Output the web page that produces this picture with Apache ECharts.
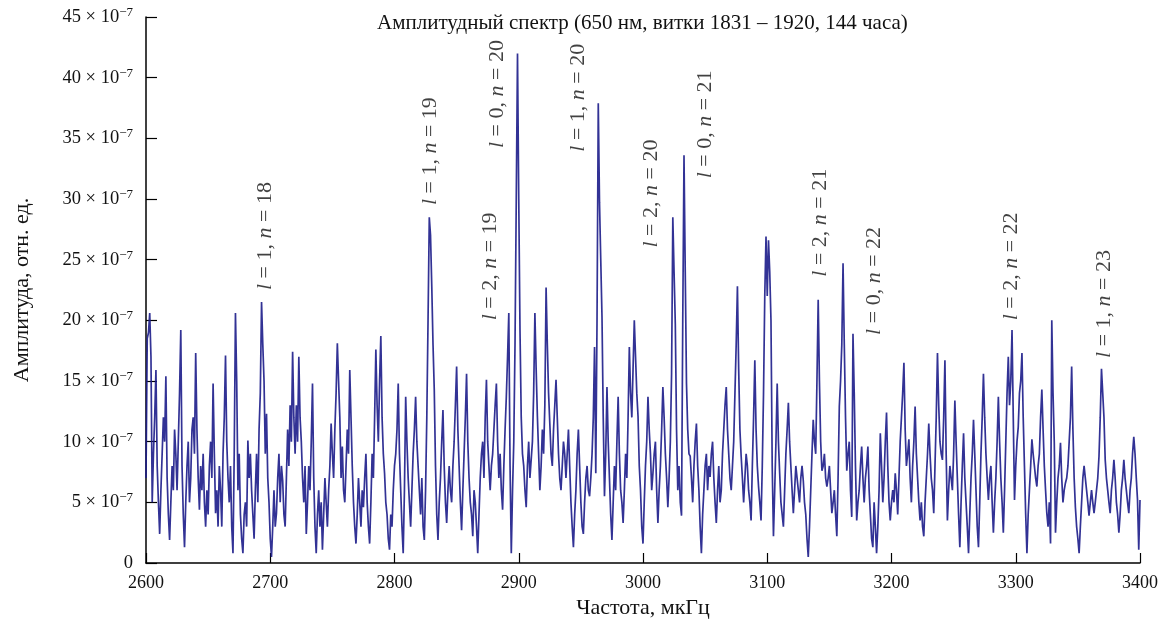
<!DOCTYPE html>
<html>
<head>
<meta charset="utf-8">
<script src="https://cdn.jsdelivr.net/npm/echarts@6/dist/echarts.min.js"></script>
<style>html,body{margin:0;padding:0;background:#fff;}#c{width:1167px;height:628px;}</style>
</head>
<body>
<div id="c"></div>
<script>
const freqStart = 2600;
const freqStep = 1;
const amps = [
7,18.5,19,20.6,17,5,9,12,15.9,8,
5,2.4,6,9,12,10,15.4,7,4,1.9,
5,8,6,11,9,6,10,14,19.2,8,
4,1.3,5,8,10,5,7,11,12,9,
17.3,11,7,4.4,8,6,9,5,3,6,
4,8,10,7,14.8,9,4.1,6,3,8,
6,3,9,12,17.1,10,7,5,8,3,
0.8,9,20.6,15,6,9,4,2,0.8,4,
5,3,10.1,7,9,6,4,2,6,9,
5,11,14,21.5,18,15,9,12.3,7,5,
2,0.5,3,6,3,4.1,7,9,5,8,
6.8,4,3,7,11,8,13,10,17.4,12,
9,13,10,17,12,10,7,5,8,2.4,
5,8,6,10,14.8,7,3,0.8,4,6,
3,5,1.1,4,7,5,3,6,8,11.5,
9,7,11,14,18.1,15,12,7,9.6,6,
5,8,11,9,15.9,12,8,5,3,1.6,
4,7,5,3,6,4.6,7,9,5,3,
1.6,5,9,7,12,17.6,13,10,15,18.7,
12,9,7.4,5,4,2,1.1,4,3,6,
8,9,11,14.8,9,6,3,0.8,6,13.7,
10,7,5,3,6,9,11,13.7,10,8,
6,4,7,3,1.9,6,12,20,28.5,27,
22.8,18,14.3,8,4,1.9,5,7,10,12.6,
8,5,3.3,6,8,6,5,8,10,13,
16.2,11,8,5,2.7,6,9,12,15.6,10,
7,5,4,2.2,6,5,3,0.8,4,7,
9,10,7,12,15.1,10,8,6,8,9,
11,13,14.8,10,7,9,6,4.4,8,11,
13.7,17,20.6,8,0.8,6,10,18.1,30,42,
30,19.2,12,9,8,6,4.6,8,10,7,
7,10,14,20.6,16,12.1,9,6,8,11,
9,13,22.7,18,14,11.5,9,8,11,13,
15.1,12,9,7,6,8,10,9,7,9,
11,8,5,3,1.3,4,6,9,11,8,
5,3,2.4,5,7,8,6,5.5,7,9,
12,17.8,7.4,20,37.9,29.7,25,20.3,12,5.5,
9,14.5,10,7,4,1.9,5,8,6,10,
13.7,9,6,5,3.3,6,9,7,12,17.8,
14,12,16,20,17,14,12.1,8,6,3,
1.6,5,8,10,13.7,11,9,6,7.4,9,
10,6,3.3,6,8,11,14.5,12,9,7,
4.6,7,10,15.6,28.5,24,19.7,11,6,8,
5,3.9,20,33.6,24,14.8,11,9,8.8,7,
5,8,10,11.5,8,6,3,0.8,4,6,
8,9,6,8,7.1,9,10,7,5,3.3,
6,8,5,6,9,11,13,14.5,11,9,
7,6,8,10,14,18,22.8,16,11,8.8,
7,5,7,9,8,6,5,3.5,8,12,
16.7,11,8,6.3,5,3.5,8,14,22,26.9,
22,26.6,24,20,8,2.2,6,10,14.8,10,
7.4,5,4,3,6,9,11,13.2,10,8,
6,4.1,6,8,7.9,6,5,7,8,6.8,
5,4,2,0.5,3,6,9,11.8,10,9,
15,21.7,15,10,7.6,8,9,7,6.3,7,
8,6,4.1,5,6,4,2.2,7,12.9,15,
18,24.7,18,12,7.6,9,10,6,3.8,18.9,
14,8,3.5,5,6,8,9.6,7,5,7,
8,9.6,6,4,2,1.3,5,3,0.8,3,
6,10.7,8,5,7,10,12.4,8,5,3.5,
5,6,5,7.4,6,4,7,10,12,14,
16.5,11,8,9,10.2,7,5,8,10,12.9,
9,7,5,3.5,5,3,2.2,5,7,9,
11.5,9,7,6,4.1,8,12,17.3,13,10,
9,8.5,12,16.7,9,3.5,6,8,7,6,
9,13.4,10,7,4,1.3,5,8,10.7,7,
5,3,0.8,4,7,9,11.8,9,6,3,
1.3,5,9,12,15.6,12,9,7,5.2,7,
8,5,2.5,5,7,10,13.7,10,7,5,
2.5,6,10,14,17,13,15,19.2,12,5.2,
8,10,11.2,14,15,17.3,12,8,4,0.8,
4,6,8,10.2,9,8,7,6.3,8,9,
12,14.3,11,8,6,4.1,3,5,1.6,20,
14,10,2.5,5,7,8,9.9,7,5,6,
6.6,7,8,10,12,16.2,11,7,4.6,3,
2,0.8,3,5,7,8,7,6,5,3.9,
5,6,5,4.1,5,6,7,8.8,12,16,
14,12,8.5,7,6,5,4.1,6,7,8.5,
7,5,4,2.5,4,6,7,8.5,7,6,
5,4.1,6,7,9,10.4,9,7,5.2,1.1,
5.2
];
const yTicks = [0,5,10,15,20,25,30,35,40,45];
const xTicks = [2600,2700,2800,2900,3000,3100,3200,3300,3400];
// Mode annotations: label anchor (frequency, amplitude at text start), l and n
const modeFreq = [2696, 2829, 2877, 2883, 2948, 3007, 3050, 3143, 3186, 3296, 3371];
const modeAmp  = [22.5, 29.5, 20.0, 34.2, 33.9, 26.0, 31.7, 23.6, 18.8, 20.0, 16.9];
const modeL    = [1, 1, 2, 0, 1, 2, 0, 2, 0, 2, 1];
const modeN    = [18, 19, 19, 20, 20, 20, 21, 21, 22, 22, 23];

const serif = '"Liberation Serif","DejaVu Serif","Times New Roman",serif';
const lineData = amps.map((a, i) => [freqStart + i * freqStep, a]);
const modeData = modeFreq.map((f, i) => ({value: [f, modeAmp[i]], l: modeL[i], n: modeN[i]}));

const chart = echarts.init(document.getElementById('c'));
chart.setOption({
  animation: false,
  backgroundColor: '#fff',
  title: {
    text: 'Амплитудный спектр (650 нм, витки 1831 – 1920, 144 часа)',
    left: 372, top: 8,
    textStyle: {fontFamily: serif, fontSize: 21, fontWeight: 'normal', color: '#111'}
  },
  grid: {left: 146, right: 27, top: 17, bottom: 65, containLabel: false},
  xAxis: {
    type: 'value', min: 2600, max: 3400, interval: 100,
    name: 'Частота, мкГц', nameLocation: 'middle', nameGap: 32,
    nameTextStyle: {fontFamily: serif, fontSize: 22, color: '#111'},
    axisLine: {show: true, lineStyle: {color: '#000', width: 1.5}},
    axisTick: {show: true, inside: true, length: 10, lineStyle: {color: '#000', width: 1.2}},
    axisLabel: {fontFamily: serif, fontSize: 18, color: '#111', margin: 11,
      formatter: v => xTicks.includes(v) ? String(v) : ''},
    splitLine: {show: false}
  },
  yAxis: {
    type: 'value', min: 0, max: 45, interval: 5,
    name: 'Амплитуда, отн. ед.', nameLocation: 'middle', nameGap: 113, nameRotate: 90,
    nameTextStyle: {fontFamily: serif, fontSize: 22, color: '#111'},
    axisLine: {show: true, lineStyle: {color: '#000', width: 1.5}},
    axisTick: {show: true, inside: true, length: 11, lineStyle: {color: '#000', width: 1.2}},
    axisLabel: {
      margin: 13, color: '#111',
      formatter: v => !yTicks.includes(v) ? '' : (v === 0 ? '{a|0}' : '{a|' + v + ' × 10}{s|−7}'),
      rich: {
        a: {fontFamily: serif, fontSize: 18.5, color: '#111'},
        s: {fontFamily: serif, fontSize: 13, color: '#111', verticalAlign: 'bottom', padding: [0, 0, 9, 0]}
      }
    },
    splitLine: {show: false}
  },
  series: [
    {
      type: 'line', data: lineData, showSymbol: false, symbol: 'none',
      lineStyle: {color: '#1c1c8a', width: 1.7, opacity: 0.9}, z: 2
    },
    {
      type: 'scatter', data: modeData, symbolSize: 0, z: 3,
      label: {
        show: true, position: 'inside', rotate: 90, align: 'left', verticalAlign: 'middle',
        formatter: p => '{i|l}{t| = ' + p.data.l + ', }{i|n}{t| = ' + p.data.n + '}',
        rich: {
          i: {fontFamily: serif, fontSize: 22, fontStyle: 'italic', color: '#111'},
          t: {fontFamily: serif, fontSize: 22, color: '#111'}
        }
      }
    }
  ]
});
</script>
</body>
</html>
